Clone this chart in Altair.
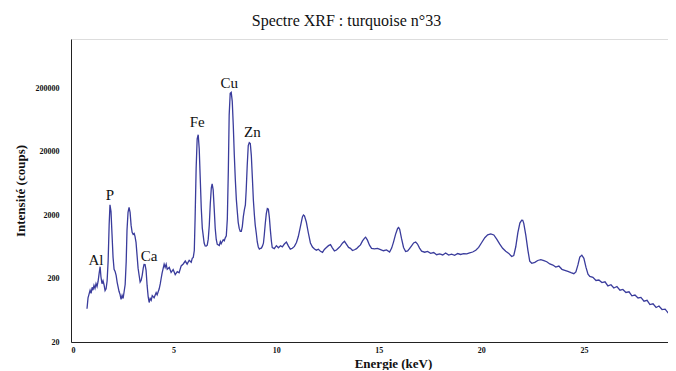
import altair as alt
import pandas as pd

energy = [0.78, 0.83, 0.88, 0.93, 0.98, 1.03, 1.07, 1.12, 1.17, 1.22, 1.27, 1.32, 1.37, 1.42, 1.46, 1.51,
          1.56, 1.61, 1.66, 1.71, 1.76, 1.81, 1.86, 1.90, 1.95, 2.00, 2.05, 2.10, 2.15, 2.20, 2.25, 2.34,
          2.39, 2.44, 2.49, 2.54, 2.59, 2.64, 2.69, 2.73, 2.78, 2.83, 2.88, 2.93, 2.98, 3.03, 3.08, 3.12,
          3.17, 3.22, 3.27, 3.32, 3.37, 3.42, 3.47, 3.52, 3.56, 3.61, 3.66, 3.71, 3.76, 3.81, 3.86, 3.91,
          3.96, 4.05, 4.15, 4.20, 4.30, 4.35, 4.39, 4.44, 4.54, 4.59, 4.64, 4.69, 4.79, 4.88, 4.98, 5.08,
          5.18, 5.27, 5.37, 5.47, 5.57, 5.66, 5.76, 5.86, 5.91, 5.96, 6.01, 6.05, 6.10, 6.15, 6.20, 6.25,
          6.30, 6.35, 6.40, 6.49, 6.54, 6.59, 6.64, 6.69, 6.74, 6.79, 6.84, 6.88, 6.93, 6.98, 7.03, 7.08,
          7.13, 7.18, 7.23, 7.28, 7.32, 7.42, 7.47, 7.52, 7.57, 7.62, 7.67, 7.71, 7.76, 7.81, 7.86, 7.91,
          7.96, 8.01, 8.06, 8.11, 8.15, 8.20, 8.25, 8.30, 8.35, 8.40, 8.45, 8.50, 8.54, 8.59, 8.64, 8.69,
          8.74, 8.79, 8.84, 8.89, 8.94, 8.98, 9.03, 9.08, 9.13, 9.18, 9.23, 9.28, 9.33, 9.38, 9.42, 9.47,
          9.52, 9.57, 9.62, 9.67, 9.72, 9.77, 9.81, 9.91, 10.01, 10.11, 10.21, 10.30, 10.40, 10.50, 10.60,
          10.69, 10.79, 10.89, 10.99, 11.08, 11.18, 11.28, 11.33, 11.38, 11.47, 11.57, 11.67, 11.77, 11.87,
          11.96, 12.06, 12.16, 12.26, 12.35, 12.45, 12.55, 12.65, 12.74, 12.84, 12.94, 13.04, 13.13, 13.23,
          13.33, 13.43, 13.53, 13.62, 13.72, 13.82, 13.92, 14.01, 14.11, 14.21, 14.31, 14.36, 14.45, 14.55,
          14.65, 14.79, 14.94, 15.09, 15.23, 15.38, 15.53, 15.63, 15.72, 15.82, 15.92, 15.97, 16.02, 16.11,
          16.21, 16.31, 16.41, 16.50, 16.60, 16.70, 16.80, 16.89, 16.99, 17.09, 17.24, 17.38, 17.53, 17.68,
          17.82, 17.97, 18.12, 18.26, 18.41, 18.55, 18.70, 18.85, 18.99, 19.14, 19.29, 19.43, 19.58, 19.73,
          19.87, 20.02, 20.17, 20.31, 20.46, 20.61, 20.75, 20.90, 21.04, 21.19, 21.34, 21.48, 21.58, 21.68,
          21.78, 21.88, 21.97, 22.02, 22.07, 22.17, 22.27, 22.36, 22.46, 22.61, 22.75, 22.90, 23.05, 23.19,
          23.34, 23.49, 23.63, 23.78, 23.93, 24.07, 24.22, 24.37, 24.51, 24.61, 24.71, 24.80, 24.90, 25.00,
          25.10, 25.20, 25.29, 25.44, 25.59, 25.73, 25.88, 26.03, 26.17, 26.32, 26.46, 26.61, 26.76, 26.90,
          27.05, 27.20, 27.34, 27.49, 27.64, 27.78, 27.93, 28.08, 28.22, 28.37, 28.52, 28.66, 28.81, 28.96,
          29.10, 29.25, 29.39]

counts = [67, 99, 114, 131, 117, 146, 131, 156, 140, 167, 150, 180, 239, 308, 214, 166,
          185, 160, 129, 138, 183, 377, 1426, 2920, 2270, 988, 432, 281, 260, 225, 175, 126,
          113, 94, 109, 97, 125, 161, 367, 1161, 2220, 2650, 2210, 1380, 1074, 995, 1032, 926,
          743, 466, 292, 226, 176, 188, 225, 289, 334, 333, 269, 156, 105, 84, 97, 91,
          108, 100, 120, 111, 138, 165, 197, 244, 337, 301, 336, 280, 300, 250, 277, 231,
          257, 247, 317, 340, 378, 338, 389, 361, 417, 432, 554, 1815, 11000, 32100, 37100, 22300,
          7600, 2580, 1250, 728, 653, 650, 675, 837, 1385, 3050, 5420, 6240, 5020, 2540, 1231, 828,
          692, 680, 665, 766, 712, 820, 790, 877, 943, 1740, 10500, 75700, 167000, 172600, 124800, 52500,
          17800, 7250, 3520, 2200, 1540, 1236, 1109, 1110, 1322, 1896, 2430, 2910, 4990, 12270, 25100, 27860,
          27000, 17400, 7870, 3440, 2000, 1396, 1047, 755, 630, 586, 600, 605, 649, 723, 963, 1479,
          2120, 2540, 2480, 1828, 1141, 768, 619, 595, 661, 612, 658, 632, 702, 752, 651,
          582, 601, 644, 743, 920, 1313, 1875, 2014, 1950, 1560, 1047, 728, 628, 584,
          561, 580, 538, 519, 576, 617, 661, 685, 612, 548, 565, 608, 651, 723,
          774, 692, 621, 600, 554, 570, 593, 635, 680, 785, 871, 900, 808, 673,
          601, 590, 600, 574, 550, 568, 526, 605, 752, 998, 1236, 1280, 1200, 859,
          619, 534, 545, 593, 658, 730, 755, 702, 605, 542, 521, 535, 499, 515,
          476, 491, 472, 506, 469, 484, 465, 497, 480, 493, 492, 508, 525, 560,
          621, 741, 883, 981, 1014, 974, 840, 697, 601, 538, 499, 446, 460, 635,
          1050, 1500, 1664, 1660, 1489, 963, 561, 377, 349, 360, 386, 399, 384, 369,
          340, 327, 304, 315, 280, 270, 259, 248, 239, 255, 329, 437, 468, 418,
          303, 234, 217, 209, 187, 190, 173, 178, 153, 160, 142, 150, 131, 135,
          121, 124, 107, 110, 99, 101, 88, 91, 78, 80, 70, 74, 65, 66,
          58, 61, 53]

peak_names = ["Al", "P", "Ca", "Fe", "Cu", "Zn"]
peak_energy = [1.22, 1.90, 3.81, 6.15, 7.71, 8.84]
peak_counts = [396, 4180, 457, 59300, 239000, 41100]

x_ticks = [0, 5, 10, 15, 20, 25]
y_ticks = [20, 200, 2000, 20000, 200000]

spec = pd.DataFrame({"E": energy, "c": counts})
labels = pd.DataFrame({"name": peak_names, "E": peak_energy, "c": peak_counts})

serif = "Liberation Serif"
xs = alt.Scale(domain=[0, 29.1], nice=False, zero=False)
ys = alt.Scale(type="log", domain=[20, 1200000], nice=False)

line = alt.Chart(spec).mark_line(color="#3a3c9c", strokeWidth=1.3, clip=True).encode(
    x=alt.X("E:Q", scale=xs, title="Energie (keV)",
            axis=alt.Axis(values=x_ticks, format="d", grid=False, ticks=False,
                          domainColor="#222", labelFont=serif, labelFontSize=8,
                          labelFontWeight="bold", labelPadding=4,
                          titleFont=serif, titleFontSize=13, titleFontWeight="bold",
                          titlePadding=3, titleX=322, titleColor="#111", labelColor="#111")),
    y=alt.Y("c:Q", scale=ys, title="Intensité (coups)",
            axis=alt.Axis(values=y_ticks, format="d", grid=False, ticks=False,
                          domainColor="#222", labelFont=serif, labelFontSize=8,
                          labelFontWeight="bold", labelPadding=12,
                          titleFont=serif, titleFontSize=13, titleFontWeight="bold",
                          titlePadding=8, titleColor="#111", labelColor="#111")),
)

text = alt.Chart(labels).mark_text(font=serif, fontSize=15, color="#111", baseline="middle").encode(
    x=alt.X("E:Q", scale=xs),
    y=alt.Y("c:Q", scale=ys),
    text="name:N",
)

chart = (line + text).properties(
    width=660, height=362,
    autosize=alt.AutoSizeParams(type="fit", contains="padding"),
    padding={"left": 6, "top": 5, "right": 0, "bottom": 0},
    title=alt.TitleParams("Spectre XRF : turquoise n°33", font=serif, fontSize=16,
                          fontWeight="normal", color="#111", offset=10, dx=-23),
).configure_view(stroke=None).configure(background="white")

chart.save("out.html", embed_options={"renderer": "svg", "actions": False})
